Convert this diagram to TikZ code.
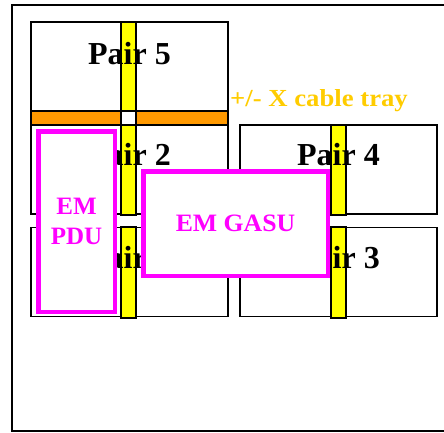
\documentclass[tikz,border=0pt]{standalone}
\usepackage{fontspec}
\setmainfont{Liberation Serif}
\definecolor{traygold}{HTML}{FFCC00}
\definecolor{trayorange}{HTML}{FF9900}
\definecolor{emmagenta}{HTML}{FF00FF}
\definecolor{stripyellow}{HTML}{FFFF00}

\begin{document}
\begin{tikzpicture}[x=1pt, y=-1pt,
        pair/.style={draw=black, line width=1.5pt, fill=white, inner sep=0pt,
                     minimum width=197pt, minimum height=89pt},
        pairtext/.style={anchor=base, inner sep=0pt, font=\fontsize{32}{36}\selectfont\bfseries},
        strip/.style={draw=black, line width=1.2pt, fill=stripyellow, inner sep=0pt, minimum width=15pt},
        em/.style={draw=emmagenta, line width=4.5pt, fill=white, inner sep=0pt, align=center,
                   text=emmagenta, font=\fontsize{25}{30}\selectfont\bfseries}
      ]
        \useasboundingbox (0,0) rectangle (444,432);
        \node[draw=black, line width=1.5pt, inner sep=0pt, minimum width=448pt, minimum height=426pt]
          (frame) at (236,218) {};

        % module pairs
        \node[pair] (pairfive)  at (129.5,66.5) {};
        \node[pair] (pairtwo)   at (129.5,169.5) {};
        \node[pair] (pairone)   at (129.5,272) {};
        \node[pair] (pairfour)  at (338.5,169.5) {};
        \node[pair] (pairthree) at (338.5,272) {};

        \node[strip, minimum height=89pt] (stripfive)  at (128.5,66.5) {};
        \node[strip, minimum height=90pt] (striptwo)   at (128.5,170) {};
        \node[strip, minimum height=91pt] (stripone)   at (128.5,272.5) {};
        \node[strip, minimum height=90pt] (stripfour)  at (338.5,170) {};
        \node[strip, minimum height=91pt] (stripthree) at (338.5,272.5) {};

        \node[pairtext] (txtfive)  at (129.5,64)  {Pair 5};
        \node[pairtext] (txttwo)   at (129.5,165) {Pair 2};
        \node[pairtext] (txtone)   at (129.5,268) {Pair 1};
        \node[pairtext] (txtfour)  at (338.5,165) {Pair 4};
        \node[pairtext] (txtthree) at (338.5,268) {Pair 3};

        % cable tray
        \node[draw=black, line width=1.5pt, fill=trayorange, inner sep=0pt,
              minimum width=197pt, minimum height=14pt] (tray) at (129.5,118) {};
        \node[draw=black, line width=1.2pt, fill=white, inner sep=0pt,
              minimum width=15pt, minimum height=14pt] (trayhole) at (128.5,118) {};
        \node[anchor=base west, inner sep=0pt, text=traygold,
              font=\fontsize{24.5}{28}\selectfont\bfseries] (traytext) at (230,106)
              {\scalebox{1.09}[1]{+/- X cable tray}};

        % EM units
        \node[em, minimum width=76.5pt, minimum height=180.5pt] (pdu) at (76.5,221.5) {EM\\PDU};
        \node[em, minimum width=184.5pt, minimum height=104.5pt] (gasu) at (235.5,223.5)
              {\scalebox{1.03}[1]{EM GASU}};
      \end{tikzpicture}
\end{document}
